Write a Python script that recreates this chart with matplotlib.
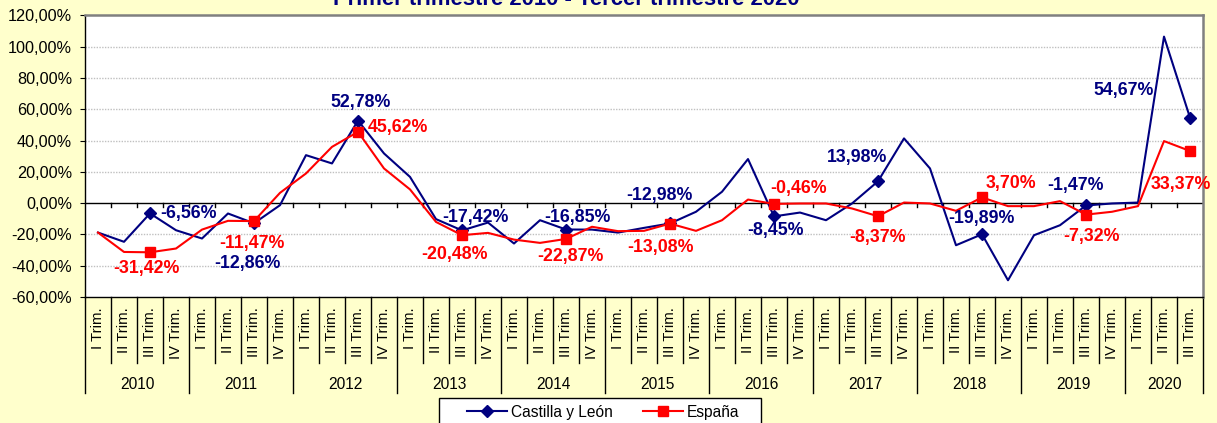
import numpy as np
import matplotlib.pyplot as plt
from matplotlib.patches import Rectangle
from matplotlib.transforms import blended_transform_factory

plt.rcParams['font.family'] = ['Liberation Sans', 'DejaVu Sans']

years = ['2010', '2011', '2012', '2013', '2014', '2015', '2016', '2017', '2018', '2019', '2020']
quarters = ['I Trim.', 'II Trim.', 'III Trim.', 'IV Trim.']
cats = [q for y in years for q in quarters][:43]

castilla = [-18.8, -24.7, -6.56, -17.3, -22.6, -6.6, -12.86, -1.3, 30.7, 25.4, 52.78, 31.8,
            16.8, -10.2, -17.42, -12.4, -25.8, -10.9, -16.85, -16.9, -18.8, -15.8, -12.98, -5.5,
            7.3, 28.2, -8.45, -6.0, -10.9, -0.2, 13.98, 41.4, 22.2, -26.9, -19.89, -49.3,
            -20.5, -14.1, -1.47, -0.2, 0.4, 106.5, 54.67]
espana = [-18.8, -31.2, -31.42, -29.0, -16.9, -11.3, -11.47, 6.6, 19.0, 36.0, 45.62, 22.2,
          8.8, -12.0, -20.48, -19.0, -23.3, -25.4, -22.87, -15.1, -17.9, -17.7, -13.08, -17.7,
          -10.9, 2.3, -0.46, -0.2, -0.2, -3.4, -8.37, 0.4, -0.2, -4.9, 3.70, -1.9,
          -1.9, 1.3, -7.32, -5.5, -1.9, 39.7, 33.37]

# label offsets (pixels) for the III Trim. points
blue_off = [(10, 0, 'left'), (-7, -40, 'center'), (3, 18, 'center'), (13, 13, 'center'),
            (11, 12, 'center'), (-11, 28, 'center'), (1, -14, 'center'), (-21, 24, 'center'),
            (-1, 16, 'center'), (-11, 20, 'center'), (-66, 27, 'center')]
red_off = [(-4, -16, 'center'), (-2, -22, 'center'), (10, 4, 'left'), (-8, -19, 'center'),
           (4, -18, 'center'), (-10, -24, 'center'), (25, 15, 'center'), (-1, -21, 'center'),
           (29, 14, 'center'), (6, -22, 'center'), (-9, -34, 'center')]

navy = '#000080'
red = '#FF0000'
bg = '#FFFFCC'

W, H = 1217, 423
fig = plt.figure(figsize=(W / 100, H / 100), dpi=100, facecolor=bg)
ax = fig.add_axes([85 / W, (H - 297) / H, 1118 / W, 281.5 / H])
ax.set_facecolor('white')

x = np.arange(len(cats))
ax.plot(x, castilla, color=navy, lw=1.5, marker='D', ms=6.5, markevery=slice(2, None, 4),
        label='Castilla y León', zorder=3)
ax.plot(x, espana, color=red, lw=1.5, marker='s', ms=7.5, markevery=slice(2, None, 4),
        label='España', zorder=3)

idx = list(range(2, 43, 4))
for k, i in enumerate(idx):
    dx, dy, ha = blue_off[k]
    ax.annotate(f'{castilla[i]:.2f}%'.replace('.', ','), (i, castilla[i]), xytext=(dx, dy),
                textcoords='offset pixels', ha=ha, va='center', color=navy,
                fontsize=12.8, fontweight='bold', zorder=4)
    dx, dy, ha = red_off[k]
    ax.annotate(f'{espana[i]:.2f}%'.replace('.', ','), (i, espana[i]), xytext=(dx, dy),
                textcoords='offset pixels', ha=ha, va='center', color=red,
                fontsize=12.8, fontweight='bold', zorder=4)

ax.set_xlim(-0.5, len(cats) - 0.5)
ax.set_ylim(-60, 120)
yt = np.arange(-60, 121, 20)
ax.set_yticks(yt)
ax.set_yticklabels([f'{v:.2f}%'.replace('.', ',') for v in yt], fontsize=11.7)
ax.tick_params(axis='y', length=3.6, direction='out', pad=5.6)
ax.set_xticks([])
for v in yt[1:-1]:
    if v != 0:
        ax.axhline(v, color='#C0C0C0', lw=1, ls=(0, (1, 1)), zorder=1)
ax.axhline(0, color='black', lw=1, zorder=2)

for s in ['left', 'bottom']:
    ax.spines[s].set_color('black')
    ax.spines[s].set_linewidth(1)
for s in ['top', 'right']:
    ax.spines[s].set_color('#808080')
    ax.spines[s].set_linewidth(1.8)

# category axis
tr = blended_transform_factory(ax.transData, ax.transAxes)
ph = 281.5
for b in range(len(cats) + 1):
    xb = b - 0.5
    if 0 < b < len(cats):
        ax.plot([xb, xb], [60 / 180, 60 / 180 - 4 / ph], color='black', lw=1,
                transform=tr, clip_on=False)
    low = -96 / ph if (b % 4 == 0 or b == len(cats)) else -66 / ph
    ax.plot([xb, xb], [0, low], color='black', lw=1, transform=tr, clip_on=False)
for i, c in enumerate(cats):
    ax.text(i, -10 / ph, c, rotation=90, ha='center', va='top', fontsize=10.7,
            transform=tr)
for k, yname in enumerate(years):
    n = min(4, len(cats) - 4 * k)
    ax.text(4 * k + (n - 1) / 2, -87 / ph, yname, ha='center', va='center',
            fontsize=11.2, transform=tr)

fig.text(566 / W, 1 - 5 / H, 'Primer trimestre 2010 - Tercer trimestre 2020',
         ha='center', va='baseline', color=navy, fontsize=15.8, fontweight='bold')

# legend box
fig.patches.append(Rectangle((439 / W, 1 - 430 / H), 322 / W, 32 / H, transform=fig.transFigure,
                             facecolor='white', edgecolor='black', lw=1))
leg = fig.legend(loc='center left', bbox_to_anchor=(467 / W, 1 - 412 / H), ncol=2,
                 fontsize=11.2, frameon=False, handlelength=2.55, handletextpad=0.26,
                 columnspacing=1.96, borderpad=0, borderaxespad=0)

fig.savefig('out.png', dpi=100, facecolor=bg)
